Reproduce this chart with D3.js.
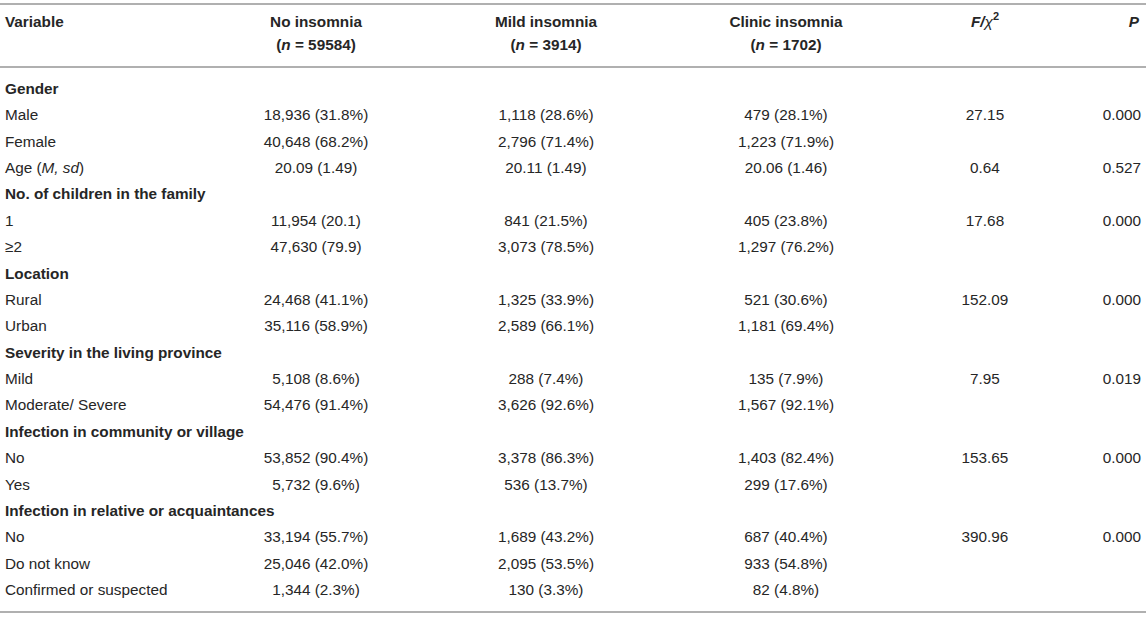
<!DOCTYPE html>
<html>
<head>
<meta charset="utf-8">
<script src="https://cdn.jsdelivr.net/npm/d3@7"></script>
<style>
  body { margin: 0; background: #fff; }
  svg text { font-family: "Liberation Sans", Arial, Helvetica, sans-serif; font-size: 15.3px; fill: #262626; }
  .bold { font-weight: bold; }
</style>
</head>
<body>
<svg id="tbl" width="1146" height="617"></svg>
<script>
// row labels, group rows are bold section heads
var labels = ["Gender", "Male", "Female", "Age (M, sd)", "No. of children in the family", "1", "\u22652",
  "Location", "Rural", "Urban", "Severity in the living province", "Mild", "Moderate/ Severe",
  "Infection in community or village", "No", "Yes", "Infection in relative or acquaintances",
  "No", "Do not know", "Confirmed or suspected"];
var isGroup = [1,0,0,0,1,0,0,1,0,0,1,0,0,1,0,0,1,0,0,0];

var noInsomnia = ["", "18,936 (31.8%)", "40,648 (68.2%)", "20.09 (1.49)", "", "11,954 (20.1)", "47,630 (79.9)",
  "", "24,468 (41.1%)", "35,116 (58.9%)", "", "5,108 (8.6%)", "54,476 (91.4%)",
  "", "53,852 (90.4%)", "5,732 (9.6%)", "", "33,194 (55.7%)", "25,046 (42.0%)", "1,344 (2.3%)"];
var mildInsomnia = ["", "1,118 (28.6%)", "2,796 (71.4%)", "20.11 (1.49)", "", "841 (21.5%)", "3,073 (78.5%)",
  "", "1,325 (33.9%)", "2,589 (66.1%)", "", "288 (7.4%)", "3,626 (92.6%)",
  "", "3,378 (86.3%)", "536 (13.7%)", "", "1,689 (43.2%)", "2,095 (53.5%)", "130 (3.3%)"];
var clinicInsomnia = ["", "479 (28.1%)", "1,223 (71.9%)", "20.06 (1.46)", "", "405 (23.8%)", "1,297 (76.2%)",
  "", "521 (30.6%)", "1,181 (69.4%)", "", "135 (7.9%)", "1,567 (92.1%)",
  "", "1,403 (82.4%)", "299 (17.6%)", "", "687 (40.4%)", "933 (54.8%)", "82 (4.8%)"];
var fStat = ["", "27.15", "", "0.64", "", "17.68", "", "", "152.09", "", "", "7.95", "",
  "", "153.65", "", "", "390.96", "", ""];
var pVal = ["", "0.000", "", "0.527", "", "0.000", "", "", "0.000", "", "", "0.019", "",
  "", "0.000", "", "", "0.000", "", ""];

var colKeys = ["var", "no", "mild", "clinic", "f", "p"];
var groupNames = ["No insomnia", "Mild insomnia", "Clinic insomnia"];
var groupN = ["59584", "3914", "1702"];

var svg = d3.select("#tbl");
var W = 1146;

var x = d3.scaleOrdinal().domain(colKeys).range([5, 316, 546, 786, 985, 1141]);
var anchor = d3.scaleOrdinal().domain(colKeys).range(["start", "middle", "middle", "middle", "middle", "end"]);
var y = d3.scalePoint().domain(d3.range(labels.length)).range([89, 590]);

// rules
svg.selectAll("line.rule").data([4, 67, 612]).enter().append("line")
  .attr("x1", 0).attr("x2", W).attr("y1", function(d) { return d; }).attr("y2", function(d) { return d; })
  .attr("stroke", "#b0b0b0").attr("stroke-width", 2);

// header
var head = svg.append("g").attr("class", "bold");
head.append("text").attr("x", x("var")).attr("y", 27).text("Variable");
["no", "mild", "clinic"].forEach(function(k, i) {
  head.append("text").attr("x", x(k)).attr("y", 27).attr("text-anchor", "middle").text(groupNames[i]);
  var t = head.append("text").attr("x", x(k)).attr("y", 50).attr("text-anchor", "middle");
  t.append("tspan").text("(");
  t.append("tspan").attr("font-style", "italic").text("n");
  t.append("tspan").text(" = " + groupN[i] + ")");
});
var ft = head.append("text").attr("x", x("f")).attr("y", 27).attr("text-anchor", "middle");
ft.append("tspan").attr("font-style", "italic").text("F/");
ft.append("tspan").attr("font-weight", "normal").attr("font-style", "italic").text("\u03c7");
ft.append("tspan").attr("dy", -7).attr("font-size", "11px").text("2");
head.append("text").attr("x", 1139).attr("y", 27).attr("text-anchor", "end").attr("font-style", "italic").text("P");

// body rows
var rows = svg.selectAll("g.row").data(labels).enter().append("g")
  .attr("class", "row")
  .attr("transform", function(d, i) { return "translate(0," + (y(i) + 5) + ")"; });

rows.append("text")
  .attr("x", x("var"))
  .classed("bold", function(d, i) { return isGroup[i]; })
  .each(function(d) {
    var t = d3.select(this);
    if (d.indexOf("(M, sd)") >= 0) {
      t.append("tspan").text("Age (");
      t.append("tspan").attr("font-style", "italic").text("M, sd");
      t.append("tspan").text(")");
    } else {
      t.text(d);
    }
  });

var cols = [["no", noInsomnia], ["mild", mildInsomnia], ["clinic", clinicInsomnia], ["f", fStat], ["p", pVal]];
cols.forEach(function(c) {
  rows.append("text")
    .attr("x", x(c[0]))
    .attr("text-anchor", anchor(c[0]))
    .text(function(d, i) { return c[1][i]; });
});
</script>
</body>
</html>
